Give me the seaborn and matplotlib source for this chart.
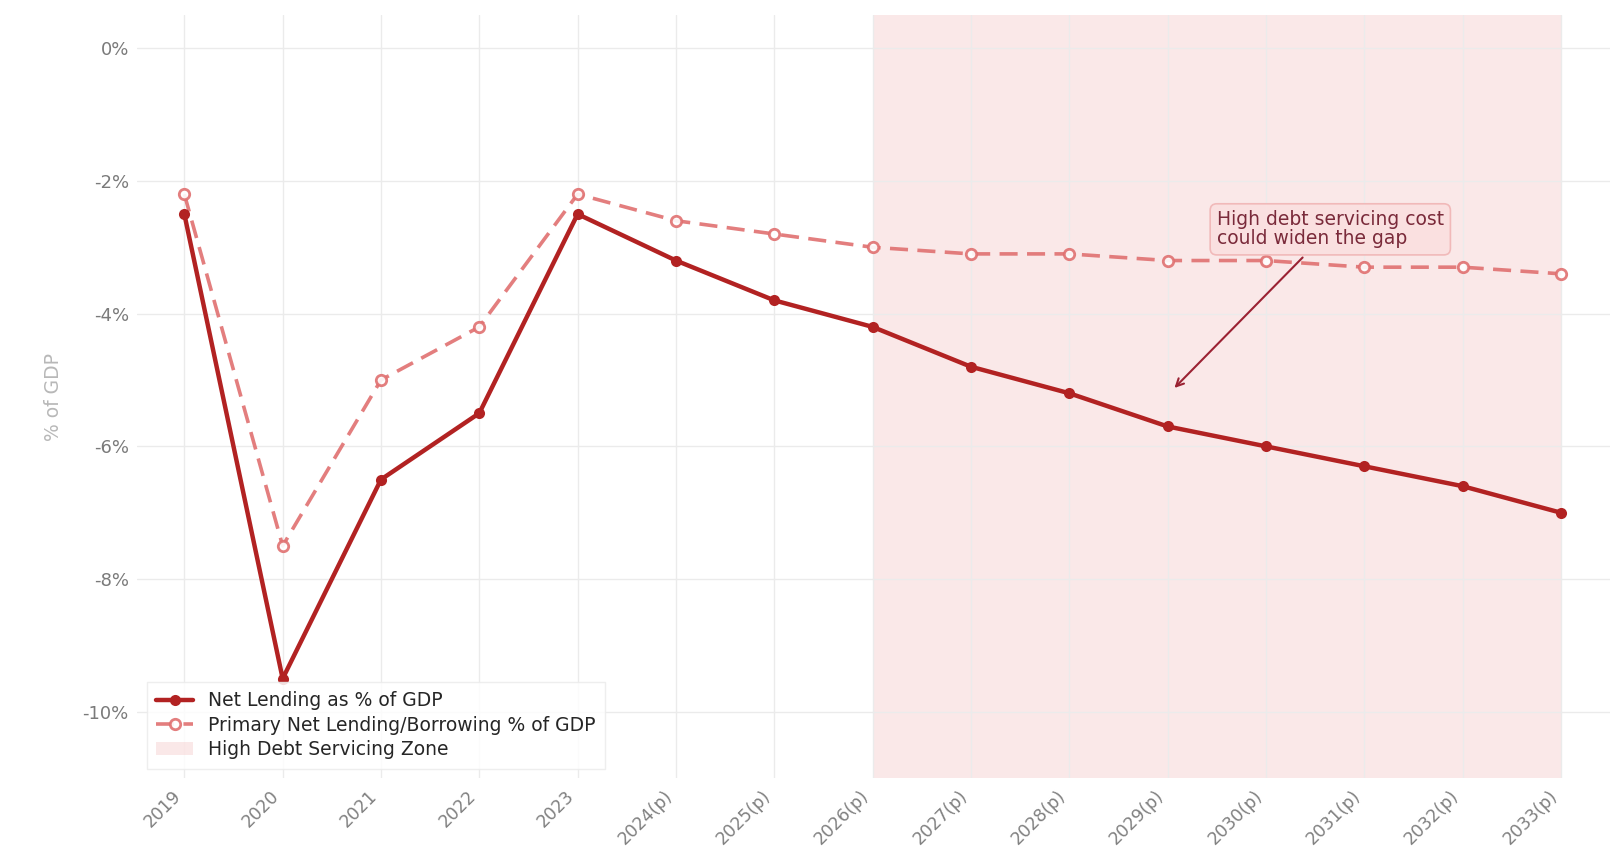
import numpy as np
import pandas as pd
import matplotlib
matplotlib.use("Agg")
import matplotlib.pyplot as plt
import seaborn as sns

years = ["2019", "2020", "2021", "2022", "2023", "2024(p)", "2025(p)", "2026(p)",
         "2027(p)", "2028(p)", "2029(p)", "2030(p)", "2031(p)", "2032(p)", "2033(p)"]
net_lending = [-2.5, -9.5, -6.5, -5.5, -2.5, -3.2, -3.8, -4.2, -4.8, -5.2, -5.7, -6.0, -6.3, -6.6, -7.0]
primary_net = [-2.2, -7.5, -5.0, -4.2, -2.2, -2.6, -2.8, -3.0, -3.1, -3.1, -3.2, -3.2, -3.3, -3.3, -3.4]
yticks = [0, -2, -4, -6, -8, -10]

sns.set_theme(style="whitegrid")
plt.rcParams["font.family"] = ["DejaVu Sans"]
plt.rcParams["grid.color"] = "#ebebeb"
plt.rcParams["grid.linewidth"] = 1.0

pos = np.arange(len(years))
df = pd.DataFrame({"pos": pos, "net": net_lending, "primary": primary_net})

fig, ax = plt.subplots(figsize=(16.23, 8.57), dpi=100)
fig.subplots_adjust(left=0.0845, right=0.992, bottom=0.092, top=0.9825)

dark_red = "#b22222"
light_red = "#e07070"

ax.axvspan(7, 14, color="#f4c6c6", alpha=0.4, lw=0, zorder=0.5,
           label="High Debt Servicing Zone")

sns.lineplot(data=df, x="pos", y="net", ax=ax, color=dark_red, linewidth=3.2,
             marker="o", markersize=8, markeredgewidth=0, markerfacecolor=dark_red,
             label="Net Lending as % of GDP", zorder=3)
sns.lineplot(data=df, x="pos", y="primary", ax=ax, color=light_red, linewidth=2.6,
             linestyle=(0, (5, 2.6)), marker="o", markersize=7.5, markerfacecolor="white",
             markeredgecolor=light_red, markeredgewidth=2, alpha=0.9,
             label="Primary Net Lending/Borrowing % of GDP", zorder=2)

ax.set_xlim(-0.48, 14.5)
ax.set_ylim(-11, 0.5)
ax.set_xticks(pos)
ax.set_xticklabels(years, rotation=45, ha="right", fontsize=12.5, color="#808080")
ax.set_yticks(yticks)
ax.set_yticklabels([f"{v}%" for v in yticks], fontsize=13, color="#7a7a7a")
ax.tick_params(axis="both", length=0, pad=6)
ax.set_xlabel("")
ax.set_ylabel("% of GDP", fontsize=13.5, color="#b8b8b8", labelpad=14)
for s in ax.spines.values():
    s.set_visible(False)

ax.annotate("High debt servicing cost\ncould widen the gap",
            xy=(10.05, -5.15), xytext=(10.5, -2.73),
            ha="left", va="center", fontsize=13.5, color="#7a2a3a",
            linespacing=1.0,
            bbox=dict(boxstyle="round,pad=0.35", fc="#fbe0e0", ec="#f0b5b5", lw=1.2, alpha=0.9),
            arrowprops=dict(arrowstyle="->", color="#9b2233", lw=1.5),
            zorder=5)

handles, labels = ax.get_legend_handles_labels()
order = [labels.index("Net Lending as % of GDP"),
         labels.index("Primary Net Lending/Borrowing % of GDP"),
         labels.index("High Debt Servicing Zone")]
leg = ax.legend([handles[i] for i in order], [labels[i] for i in order],
                loc="lower left", fontsize=13.5, frameon=True, framealpha=0.85,
                edgecolor="#ebebeb", fancybox=False, labelspacing=0.3,
                borderpad=0.5, handlelength=2.0, handletextpad=0.8)
leg.get_frame().set_linewidth(1.0)

fig.savefig("out.png", dpi=100, facecolor="white")
